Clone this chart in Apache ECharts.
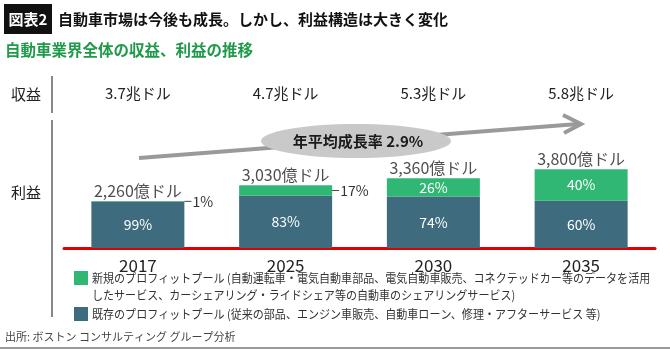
<!DOCTYPE html>
<html>
<head>
<meta charset="utf-8">
<script src="https://cdn.jsdelivr.net/npm/echarts@6/dist/echarts.min.js"></script>
<style>
  html, body { margin: 0; padding: 0; background: #fff; }
  #main { width: 670px; height: 350px; }
</style>
</head>
<body>
<div id="main"></div>
<script>
// chart data
var years = ['2017', '2025', '2030', '2035'];
var revenue = ['3.7兆ドル', '4.7兆ドル', '5.3兆ドル', '5.8兆ドル'];
var profitTotal = [2260, 3030, 3360, 3800];   // 億ドル
var newShare = [1, 17, 26, 40];               // %
var oldShare = [99, 83, 74, 60];              // %

var FONT = '"Noto Sans CJK JP", "Noto Sans", sans-serif';
var TEAL = '#3e6b7e';
var GREEN = '#30b774';

window.onload = function () {
    var myChart = echarts.init(document.getElementById('main'));

    var oldData = years.map(function (y, i) {
        return profitTotal[i] * oldShare[i] / 100;
    });
    var newData = years.map(function (y, i) {
        var item = { value: profitTotal[i] * newShare[i] / 100 };
        if (newShare[i] < 20) {
            // small slices get their label outside on the right
            item.label = {
                position: 'right',
                distance: 0,
                color: '#333',
                formatter: '{l|}{t|' + newShare[i] + '%}',
                rich: {
                    l: { width: 7, height: 1, backgroundColor: '#444' },
                    t: { fontSize: 14, color: '#333', fontFamily: FONT, padding: [0, 0, 0, 1] }
                }
            };
        }
        return item;
    });

    var option = {
        animation: false,
        textStyle: { fontFamily: FONT },
        grid: { left: 64, right: 15, top: 165, bottom: 102 },
        xAxis: [
            {
                type: 'category',
                data: years,
                position: 'bottom',
                axisLine: { show: true, onZero: false, lineStyle: { color: '#e00000', width: 3 } },
                axisTick: { show: false },
                axisLabel: { color: '#222', fontSize: 17, margin: 9, fontFamily: FONT }
            },
            {
                type: 'category',
                data: revenue,
                position: 'top',
                offset: 64,
                axisLine: { show: false },
                axisTick: { show: false },
                axisLabel: { color: '#222', fontSize: 15, margin: 0, fontFamily: FONT }
            }
        ],
        yAxis: { type: 'value', min: 0, max: 4000, show: false },
        series: [
            {
                name: '既存',
                type: 'bar',
                stack: 'profit',
                barWidth: 93,
                itemStyle: { color: TEAL },
                label: {
                    show: true, position: 'inside', color: '#fff', fontSize: 14,
                    formatter: function (p) { return oldShare[p.dataIndex] + '%'; }
                },
                data: oldData
            },
            {
                name: '新規',
                type: 'bar',
                stack: 'profit',
                barWidth: 93,
                itemStyle: { color: GREEN },
                label: {
                    show: true, position: 'inside', color: '#fff', fontSize: 14,
                    formatter: function (p) { return newShare[p.dataIndex] + '%'; }
                },
                data: newData
            },
            {
                name: 'total',
                type: 'scatter',
                symbolSize: 0,
                label: {
                    show: true, position: 'top', distance: 2, color: '#222', fontSize: 16,
                    formatter: function (p) { return p.value.toLocaleString('en-US') + '億ドル'; }
                },
                data: profitTotal
            }
        ],
        graphic: [
            // title
            { type: 'rect', shape: { x: 4, y: 4, width: 48, height: 30 }, style: { fill: '#111' } },
            { type: 'text', x: 28, y: 19, style: { text: '図表2', fill: '#fff', font: 'bold 15px ' + FONT, align: 'center', verticalAlign: 'middle' } },
            { type: 'text', x: 58, y: 19, style: { text: '自動車市場は今後も成長。しかし、利益構造は大きく変化', fill: '#111', font: 'bold 15px ' + FONT, verticalAlign: 'middle' } },
            { type: 'text', x: 5, y: 50, style: { text: '自動車業界全体の収益、利益の推移', fill: '#1f9a4a', font: 'bold 15.5px ' + FONT, verticalAlign: 'middle' } },
            // row headers and separators
            { type: 'text', x: 11, y: 94, style: { text: '収益', fill: '#222', font: '15px ' + FONT, verticalAlign: 'middle' } },
            { type: 'text', x: 11, y: 192, style: { text: '利益', fill: '#222', font: '15px ' + FONT, verticalAlign: 'middle' } },
            { type: 'line', shape: { x1: 52, y1: 76, x2: 52, y2: 113 }, style: { stroke: '#888', lineWidth: 2 } },
            { type: 'line', shape: { x1: 52, y1: 120, x2: 52, y2: 317 }, style: { stroke: '#888', lineWidth: 2 } },
            // growth arrow
            { type: 'line', shape: { x1: 139, y1: 158, x2: 578, y2: 124 }, style: { stroke: '#9a9a9a', lineWidth: 4 } },
            { type: 'polyline', shape: { points: [[563, 115], [581, 124], [564, 133]] }, style: { stroke: '#9a9a9a', lineWidth: 4, fill: null } },
            { type: 'ellipse', shape: { cx: 356, cy: 141, rx: 95, ry: 17 }, style: { fill: '#c9c9c9' } },
            { type: 'text', x: 358, y: 141, style: { text: '年平均成長率 2.9%', fill: '#1a1a1a', font: 'bold 15px ' + FONT, align: 'center', verticalAlign: 'middle' } },
            // legend
            { type: 'rect', shape: { x: 74, y: 271, width: 14, height: 14 }, style: { fill: GREEN } },
            { type: 'text', x: 92, y: 278, scaleX: 0.92, style: { text: '新規のプロフィットプール (自動運転車・電気自動車部品、電気自動車販売、コネクテッドカー等のデータを活用', fill: '#333', font: '12px ' + FONT, verticalAlign: 'middle' } },
            { type: 'text', x: 92, y: 295, scaleX: 0.92, style: { text: 'したサービス、カーシェアリング・ライドシェア等の自動車のシェアリングサービス)', fill: '#333', font: '12px ' + FONT, verticalAlign: 'middle' } },
            { type: 'rect', shape: { x: 74, y: 307, width: 14, height: 14 }, style: { fill: TEAL } },
            { type: 'text', x: 92, y: 314, scaleX: 0.92, style: { text: '既存のプロフィットプール (従来の部品、エンジン車販売、自動車ローン、修理・アフターサービス 等)', fill: '#333', font: '12px ' + FONT, verticalAlign: 'middle' } },
            // source
            { type: 'text', x: 5, y: 337, style: { text: '出所: ボストン コンサルティング グループ分析', fill: '#444', font: '11px ' + FONT, verticalAlign: 'middle' } },
            { type: 'line', shape: { x1: 0, y1: 348, x2: 670, y2: 348 }, style: { stroke: '#999', lineWidth: 2 } }
        ]
    };

    option && myChart.setOption(option);
};
</script>
</body>
</html>
